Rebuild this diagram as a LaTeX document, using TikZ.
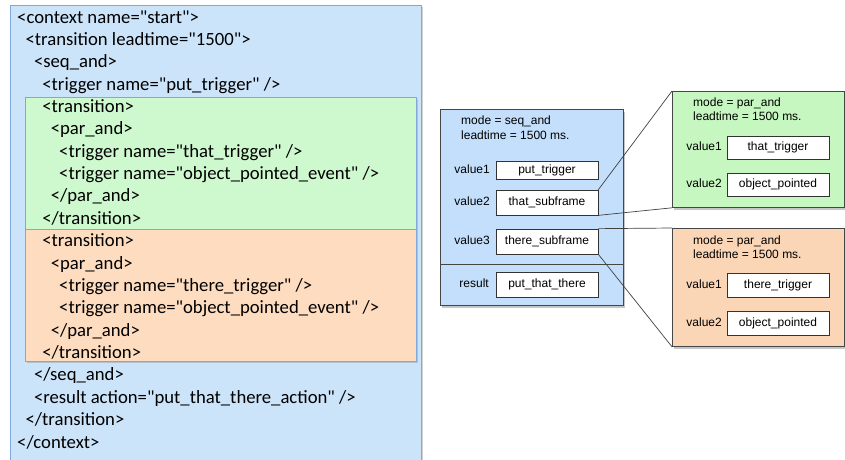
\documentclass[tikz,border=0pt]{standalone}
\usepackage{fontspec}
\setmainfont{Carlito}[Ligatures=TeXOff]
\newfontfamily\helv{Liberation Sans}
\usetikzlibrary{positioning,shadows}

\definecolor{codeblue}{RGB}{204,228,250}
\definecolor{codeedge}{RGB}{128,168,216}
\definecolor{codegreen}{RGB}{206,248,206}
\definecolor{codeorange}{RGB}{253,220,192}
\definecolor{frameblue}{RGB}{196,223,251}
\definecolor{framegreen}{RGB}{198,247,192}
\definecolor{frameorange}{RGB}{251,214,182}
\definecolor{frameedge}{RGB}{70,70,70}

\begin{document}
\begin{tikzpicture}[x=1pt,y=-1pt]

\tikzset{
	codeline/.style={anchor=base west, inner sep=0pt,
		font=\fontsize{18.7}{22}\selectfont},
	codebox/.style={draw=codeedge, line width=1.2pt, fill=#1,
		drop shadow={shadow xshift=1.5pt, shadow yshift=-1.5pt, opacity=0.35}},
	panel/.style={draw=frameedge, line width=0.8pt, fill=#1, anchor=north west,
		inner sep=0pt,
		drop shadow={shadow xshift=2pt, shadow yshift=-2.5pt, opacity=0.45}},
	valbox/.style={draw=black!80, line width=0.7pt, fill=white,
		minimum width=102pt, minimum height=#1, inner sep=0pt,
		font=\helv\fontsize{12}{14}\selectfont},
	valbox/.default=24pt,
	slot/.style={anchor=east, inner sep=0pt, text height=9pt, text depth=3pt,
		font=\helv\fontsize{12}{14}\selectfont},
	info/.style={anchor=west, inner sep=0pt, text height=9pt, text depth=3pt,
		font=\helv\fontsize{12}{14}\selectfont}
}

\useasboundingbox (0,0) rectangle (845,459);

% xml listing
\node[codebox=codeblue, anchor=north west, minimum width=411pt,
	minimum height=465pt, inner sep=0pt] (xml) at (10,5) {};
\node[codebox=codegreen, anchor=north west, minimum width=391pt,
	minimum height=132pt, inner sep=0pt] (xmlthat) at (25,97) {};
\node[codebox=codeorange, anchor=north west, minimum width=391pt,
	minimum height=132pt, inner sep=0pt] (xmlthere) at (25,229) {};

\foreach \ind/\txt [count=\i] in {
	0/{<context name="start">},
	1/{<transition leadtime="1500">},
	2/{<seq\_and>},
	3/{<trigger name="put\_trigger" />},
	3/{<transition>},
	4/{<par\_and>},
	5/{<trigger name="that\_trigger" />},
	5/{<trigger name="object\_pointed\_event" />},
	4/{</par\_and>},
	3/{</transition>},
	3/{<transition>},
	4/{<par\_and>},
	5/{<trigger name="there\_trigger" />},
	5/{<trigger name="object\_pointed\_event" />},
	4/{</par\_and>},
	3/{</transition>},
	2/{</seq\_and>},
	2/{<result action="put\_that\_there\_action" />},
	1/{</transition>},
	0/{</context>}}
	\node[codeline] (line\i) at ({17+8.4*\ind},{23+22.37*(\i-1)}) {\txt};

% frames
\node[panel=frameblue, minimum width=183pt, minimum height=196pt] (seqf) at (440,109) {};
\draw[draw=frameedge, line width=0.8pt] (440,264) -- (623,264);
\node[info] (seqmode) at (461,121) {mode = seq\_and};
\node[info] (seqlead) at (461,136) {leadtime = 1500 ms.};
\node[valbox=18pt] (sv1) at (547,170) {put\_trigger};
\node[valbox=25pt] (sv2) at (547,202.5) {that\_subframe};
\node[valbox=25pt] (sv3) at (547,241.5) {there\_subframe};
\node[valbox=25pt] (sres) at (547,284.5) {put\_that\_there};
\node[slot] at (490,170) {value1};
\node[slot] at (490,202.5) {value2};
\node[slot] at (490,241.5) {value3};
\node[slot] at (489,284.5) {result};

\node[panel=framegreen, minimum width=172pt, minimum height=116pt] (thatf) at (672,91) {};
\node[info] (thatmode) at (693,103) {mode = par\_and};
\node[info] (thatlead) at (693,117) {leadtime = 1500 ms.};
\node[valbox=23pt] (tv1) at (778,147.5) {that\_trigger};
\node[valbox=23pt] (tv2) at (778,184.5) {object\_pointed};
\node[slot] at (722,147.5) {value1};
\node[slot] at (722,184.5) {value2};

\node[panel=frameorange, minimum width=172pt, minimum height=118pt] (theref) at (672,228) {};
\node[info] (theremode) at (693,241) {mode = par\_and};
\node[info] (therelead) at (693,255) {leadtime = 1500 ms.};
\node[valbox] (rv1) at (778,285) {there\_trigger};
\node[valbox] (rv2) at (778,323) {object\_pointed};
\node[slot] at (722,285) {value1};
\node[slot] at (722,323) {value2};

% zoom lines
\draw[black!75, line width=0.7pt] (sv2.north east) -- (thatf.north west);
\draw[black!75, line width=0.7pt] (sv2.south east) -- (thatf.south west);
\draw[black!75, line width=0.7pt] (sv3.north east) -- (theref.north west);
\draw[black!75, line width=0.7pt] (sv3.south east) -- (theref.south west);

\end{tikzpicture}
\end{document}
